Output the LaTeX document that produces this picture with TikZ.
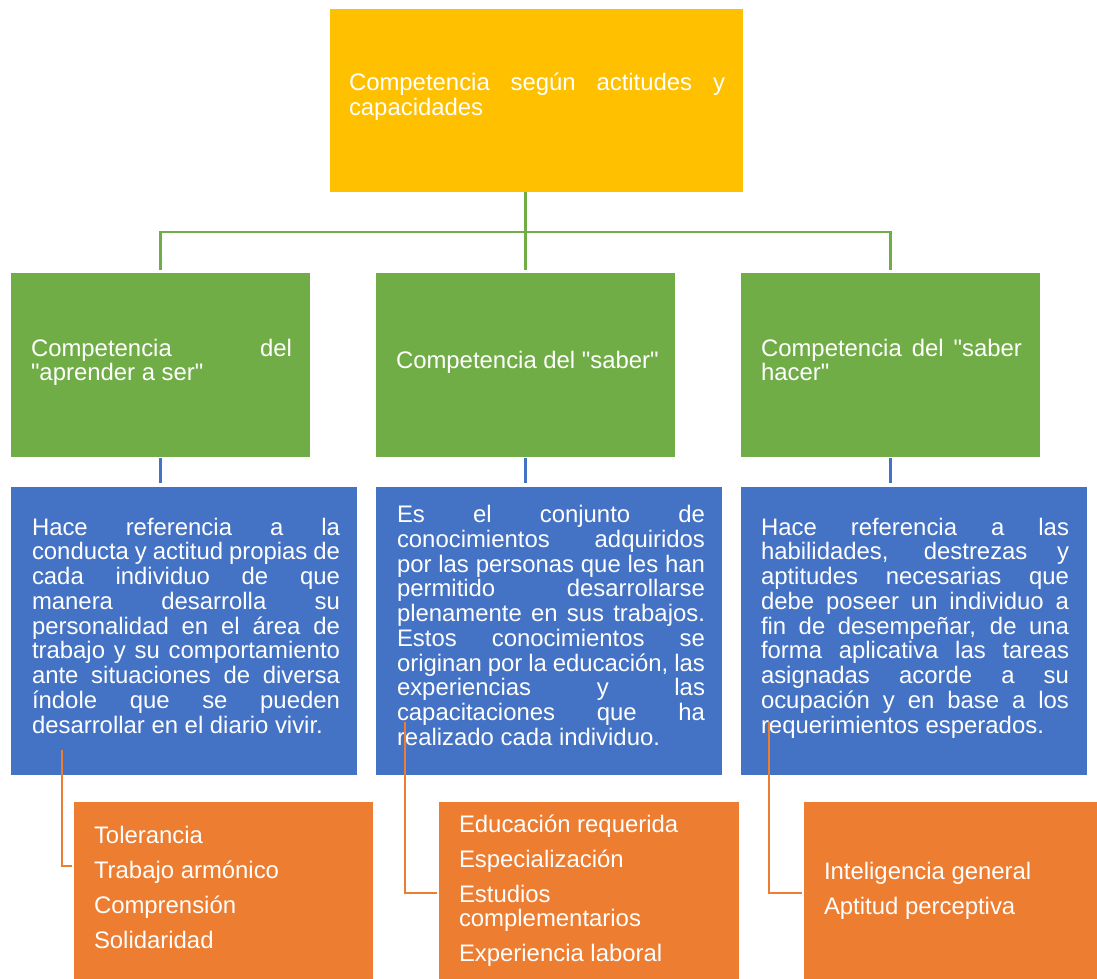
\documentclass[tikz,border=0pt]{standalone}
\usepackage{fontspec}
\setmainfont{Liberation Sans}[Ligatures=TeXOff]
\usetikzlibrary{calc}

\definecolor{cYellow}{HTML}{FFC000}
\definecolor{cGreen}{HTML}{70AD47}
\definecolor{cBlue}{HTML}{4472C4}
\definecolor{cOrange}{HTML}{ED7D31}

% one fully justified line of a paragraph
\newcommand{\jl}[1]{\makebox[\hsize][s]{#1}}

\tikzset{
  panel/.style={fill=#1, draw=none, inner sep=0pt, outer sep=0pt, anchor=north west},
  label/.style={anchor=base west, inner sep=0pt, outer sep=0pt, text=white,
    font=\fontsize{23.9}{24.75}\selectfont, align=justify, text width=#1},
  gline/.style={draw=cGreen, line width=2.2pt},
  bline/.style={draw=cBlue, line width=2.2pt},
  oline/.style={draw=cOrange, line width=2.2pt},
}

\begin{document}
\begin{tikzpicture}[x=1pt, y=-1pt]
\useasboundingbox (0,0) rectangle (1097,979);

% ---- boxes ----
\node[panel=cYellow, minimum width=413pt, minimum height=183pt] (top) at (330,9) {};

\node[panel=cGreen, minimum width=299pt, minimum height=184pt] (g1) at (11,273) {};
\node[panel=cGreen, minimum width=299pt, minimum height=184pt] (g2) at (376,273) {};
\node[panel=cGreen, minimum width=299pt, minimum height=184pt] (g3) at (741,273) {};

\node[panel=cBlue, minimum width=346pt, minimum height=288pt] (b1) at (11,487) {};
\node[panel=cBlue, minimum width=346pt, minimum height=288pt] (b2) at (376,487) {};
\node[panel=cBlue, minimum width=346pt, minimum height=288pt] (b3) at (741,487) {};

\node[panel=cOrange, minimum width=299pt, minimum height=177pt] (o1) at (74,802) {};
\node[panel=cOrange, minimum width=300pt, minimum height=177pt] (o2) at (439,802) {};
\node[panel=cOrange, minimum width=293pt, minimum height=177pt] (o3) at (804,802) {};

% ---- connectors ----
\coordinate (bar) at (525,232);
\draw[gline, shorten >=3pt] (top.south -| g2.north) -- (g2.north);
\draw[gline, shorten <=3pt, shorten >=3pt] (g1.north) |- (bar) -| (g3.north);

\draw[bline, shorten <=1pt, shorten >=4pt] (g1.south) -- (g1.south |- b1.north);
\draw[bline, shorten <=1pt, shorten >=4pt] (g2.south) -- (g2.south |- b2.north);
\draw[bline, shorten <=1pt, shorten >=4pt] (g3.south) -- (g3.south |- b3.north);

% ---- texts ----
\node[label=376pt] (ttop) at (349,91)
  {\jl{Competencia según actitudes y}\\capacidades};

\node[label=261pt] (tg1) at (31,356)
  {\jl{Competencia del}\\"aprender a ser"};
\node[label=290pt] (tg2) at (396,368)
  {Competencia del "saber"};
\node[label=261pt] (tg3) at (761,356)
  {\jl{Competencia del "saber}\\hacer"};

\node[label=308pt] (tb1) at (32,535)
  {\jl{Hace referencia a la}\\
   \jl{conducta y actitud propias de}\\
   \jl{cada individuo de que}\\
   \jl{manera desarrolla su}\\
   \jl{personalidad en el área de}\\
   \jl{trabajo y su comportamiento}\\
   \jl{ante situaciones de diversa}\\
   \jl{índole que se pueden}\\
   desarrollar en el diario vivir.};

\node[label=308pt] (tb2) at (397,522.6)
  {\jl{Es el conjunto de}\\
   \jl{conocimientos adquiridos}\\
   \jl{por las personas que les han}\\
   \jl{permitido desarrollarse}\\
   \jl{plenamente en sus trabajos.}\\
   \jl{Estos conocimientos se}\\
   \jl{originan por la educación, las}\\
   \jl{experiencias y las}\\
   \jl{capacitaciones que ha}\\
   realizado cada individuo.};

\node[label=308pt] (tb3) at (761,535)
  {\jl{Hace referencia a las}\\
   \jl{habilidades, destrezas y}\\
   \jl{aptitudes necesarias que}\\
   \jl{debe poseer un individuo a}\\
   \jl{fin de desempeñar, de una}\\
   \jl{forma aplicativa las tareas}\\
   \jl{asignadas acorde a su}\\
   \jl{ocupación y en base a los}\\
   requerimientos esperados.};

\node[label=260pt] (to1) at (94,843)
  {Tolerancia\\[10.25pt]Trabajo armónico\\[10.25pt]Comprensión\\[10.25pt]Solidaridad};
\node[label=260pt] (to2) at (459,832)
  {Educación requerida\\[10.25pt]Especialización\\[10.25pt]Estudios\\complementarios\\[10.25pt]Experiencia laboral};
\node[label=260pt] (to3) at (824,879)
  {Inteligencia general\\[10.25pt]Aptitud perceptiva};

% ---- connectors into the lists ----
\coordinate (c1) at (62,750);
\coordinate (c2) at (405,722);
\coordinate (c3) at (769,722);
\draw[oline, shorten >=2pt] (c1) |- ([yshift=24.5pt]o1.west);
\draw[oline, shorten >=2pt] (c2) |- ([yshift=-2.5pt]o2.west);
\draw[oline, shorten >=2pt] (c3) |- ([yshift=-2.5pt]o3.west);
\end{tikzpicture}
\end{document}
